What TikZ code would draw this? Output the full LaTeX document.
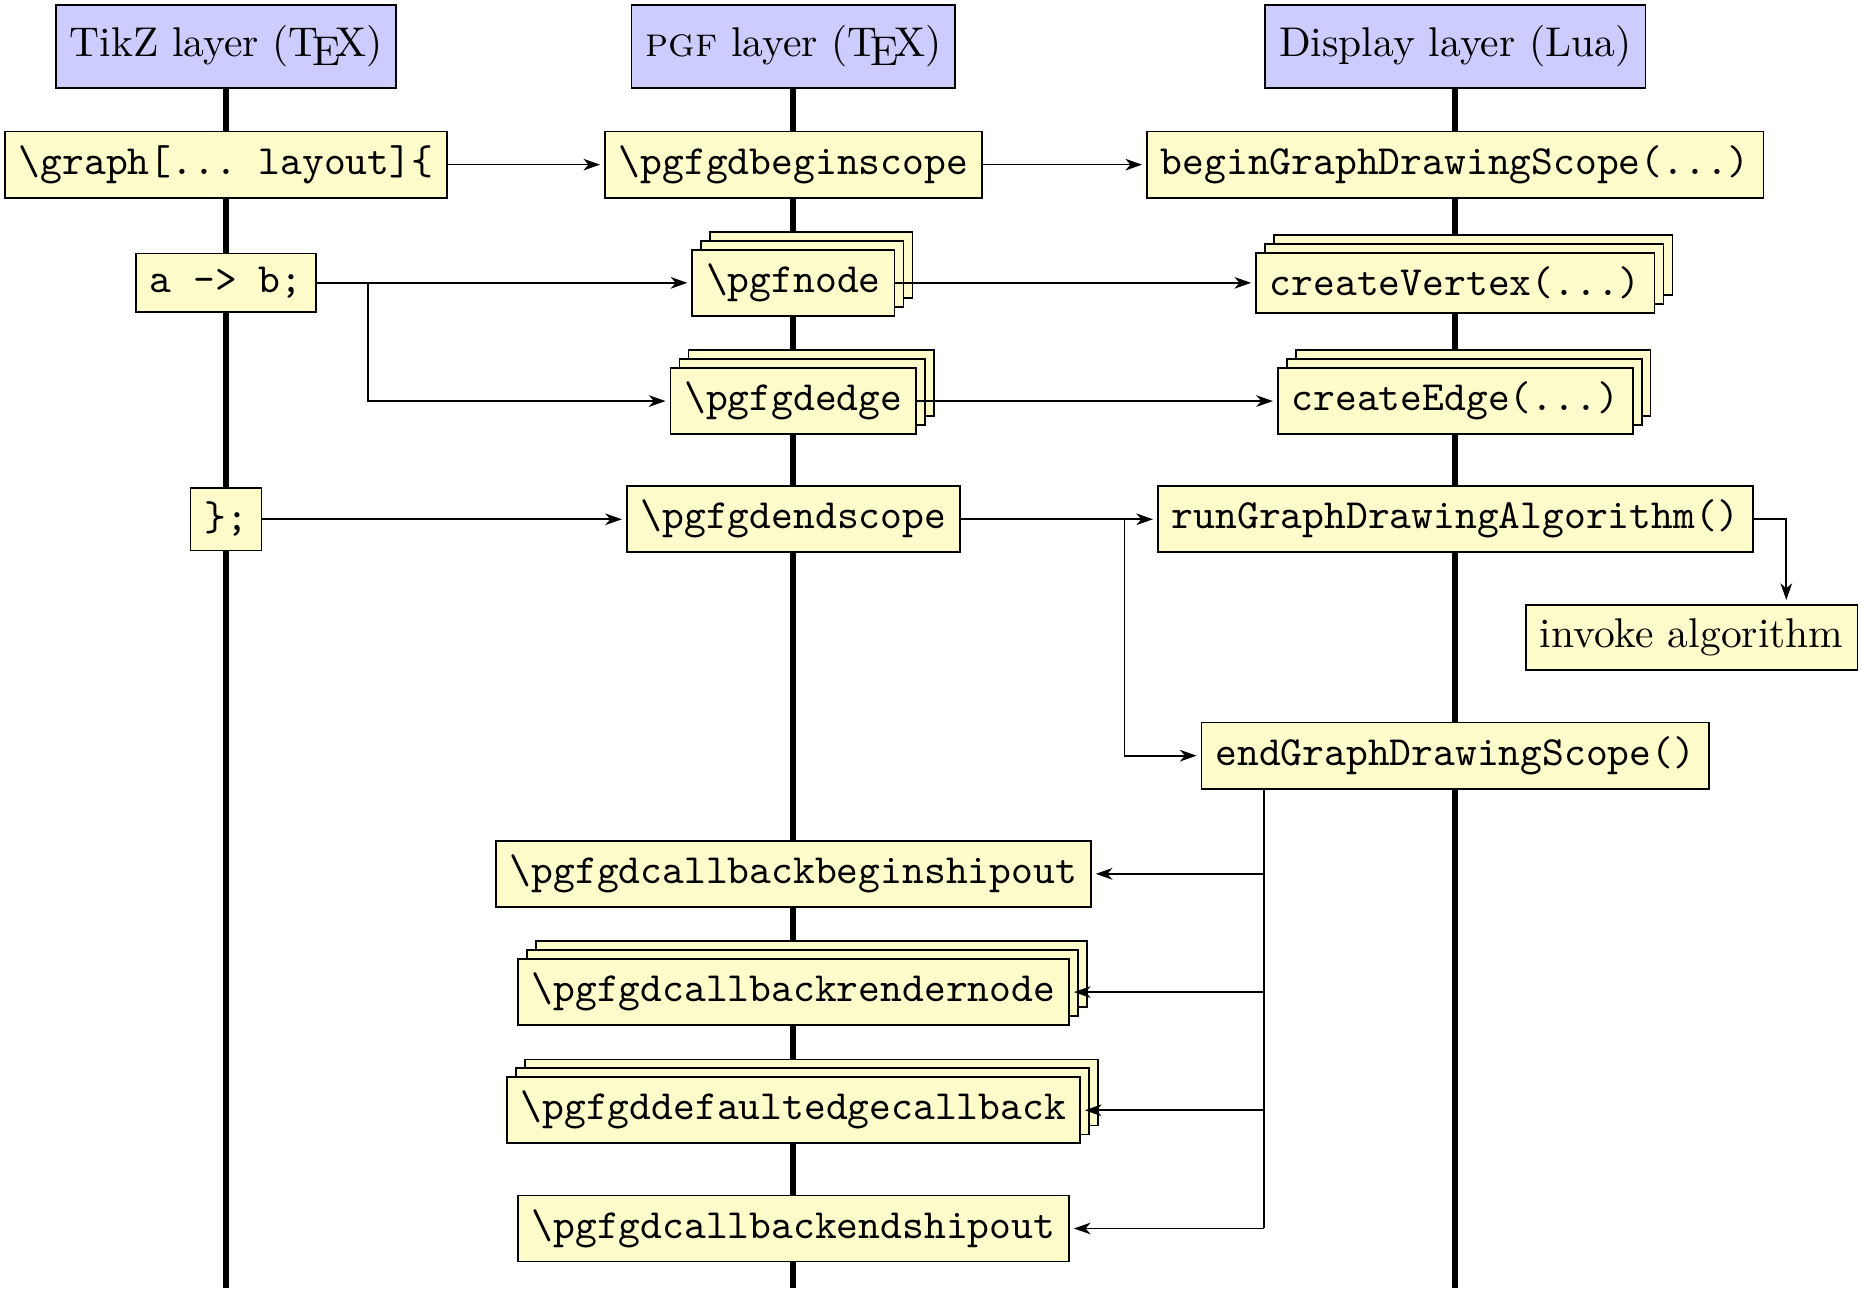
\documentclass[tikz,border=0pt]{standalone}
\usetikzlibrary{shadows,arrows.meta}
\pgfdeclarelayer{background}
\pgfsetlayers{background,main}
\begin{document}
\frenchspacing
\begin{tikzpicture}[
  lifeline/.style={line width=1.4pt},
  header/.style={draw, fill=blue!20, minimum height=20pt},
  call/.style={draw, fill=yellow!20, font=\ttfamily\frenchspacing},
  plainbox/.style={draw, fill=yellow!20},
  multi/.style={double copy shadow={shadow xshift=.5ex, shadow yshift=.5ex}},
  conn/.style={-{Stealth[length=4pt,width=2.8pt,inset=1.2pt]}, shorten >=1pt},
]
\useasboundingbox (-1.912,-10.529) rectangle (13.832,0.393);

% headers
\node[header] (tikzH) at (0,0) {TikZ layer (\TeX)};
\node[header] (pgfH) at (4.8,0) {\textsc{pgf} layer (\TeX)};
\node[header] (luaH) at (10.4,0) {Display layer (Lua)};

% lifeline ends
\coordinate (tikzE) at (0,-10.5);
\coordinate (pgfE) at (4.8,-10.5);
\coordinate (luaE) at (10.4,-10.5);

% TikZ layer
\node[call] (graph) at (0,-1) {\char92 graph[... layout]\char123};
\node[call] (ab) at (0,-2) {a -> b;};
\node[call] (close) at (0,-4) {\char125;};

% PGF layer
\node[call] (beginscope) at (4.8,-1) {\char92 pgfgdbeginscope};
\node[call,multi] (pgfnode) at (4.8,-2) {\char92 pgfnode};
\node[call,multi] (pgfgdedge) at (4.8,-3) {\char92 pgfgdedge};
\node[call] (endscope) at (4.8,-4) {\char92 pgfgdendscope};
\node[call] (beginship) at (4.8,-7) {\char92 pgfgdcallbackbeginshipout};
\node[call,multi] (rendernode) at (4.8,-8) {\char92 pgfgdcallbackrendernode};
\node[call,multi] (edgecb) at (4.8,-9) {\char92 pgfgddefaultedgecallback};
\node[call] (endship) at (4.8,-10) {\char92 pgfgdcallbackendshipout};

% Display layer
\node[call] (beginGDS) at (10.4,-1) {beginGraphDrawingScope(...)};
\node[call,multi] (vertex) at (10.4,-2) {createVertex(...)};
\node[call,multi] (edge) at (10.4,-3) {createEdge(...)};
\node[call] (runGDA) at (10.4,-4) {runGraphDrawingAlgorithm()};
\node[plainbox] (invoke) at (12.4,-5) {invoke algorithm};
\node[call] (endGDS) at (10.4,-6) {endGraphDrawingScope()};

% lifelines behind everything
\begin{pgfonlayer}{background}
\draw[lifeline] (tikzH) -- (tikzE);
\draw[lifeline] (pgfH) -- (pgfE);
\draw[lifeline] (luaH) -- (luaE);
\end{pgfonlayer}

% fork coordinates
\coordinate (abfork) at (1.2,-2);
\coordinate (esfork) at (7.6,-4);
\coordinate (rgfork) at (13.2,-4);
\coordinate (egfork) at (8.78,-6);
\coordinate (egend) at (8.78,-10);

% connectors
\draw[conn] (graph) -- (beginscope);
\draw[conn] (beginscope) -- (beginGDS);
\draw[conn] (ab) -- (pgfnode);
\draw[conn] (abfork) |- (pgfgdedge);
\draw[conn] (pgfnode) -- (vertex);
\draw[conn] (pgfgdedge) -- (edge);
\draw[conn] (close) -- (endscope);
\draw[conn] (endscope) -- (runGDA);
\draw[conn] (esfork) |- (endGDS);
\draw[conn] (runGDA.east) -| (invoke.north -| rgfork);
\draw (endGDS.south -| egfork) -- (egend);
\draw[conn] (egfork |- beginship) -- (beginship);
\draw[conn] (egfork |- rendernode) -- (rendernode);
\draw[conn] (egfork |- edgecb) -- (edgecb);
\draw[conn] (egend) -- (endship);
\end{tikzpicture}
\end{document}
